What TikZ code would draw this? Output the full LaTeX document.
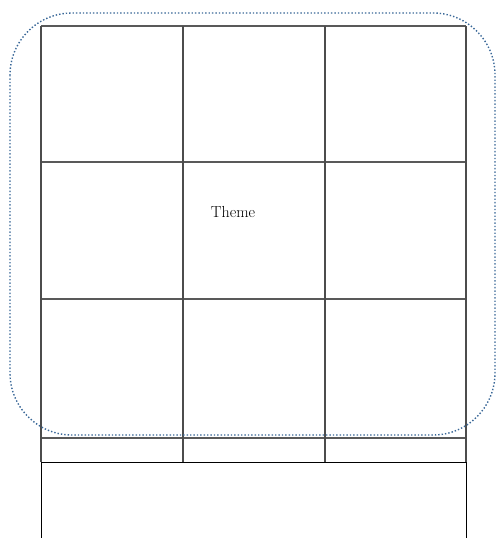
\documentclass[tikz,border=0pt]{standalone}
\definecolor{dotblue}{RGB}{58,104,152}
\begin{document}
\begin{tikzpicture}[x=1pt, y=-1pt]
\useasboundingbox (0,0) rectangle (497,538);
\foreach \y in {26,162,299,438}
{
    \draw[line width=1.6pt, black!65](41,\y)--(466,\y);
}
\foreach \x in {41,183,325,466}
{
    \draw[line width=1.6pt, black!70](\x,26)--(\x,462);
}
\draw[line width=1pt](41,545)--(41,462)--(466,462)--(466,545);
\node[font=\fontsize{16}{18}\selectfont] (theme) at (233,212) {Theme};
\draw[dotblue, dotted, line width=1.4pt, rounded corners=62pt](10,13) rectangle (495,435);
\end{tikzpicture}
\end{document}
